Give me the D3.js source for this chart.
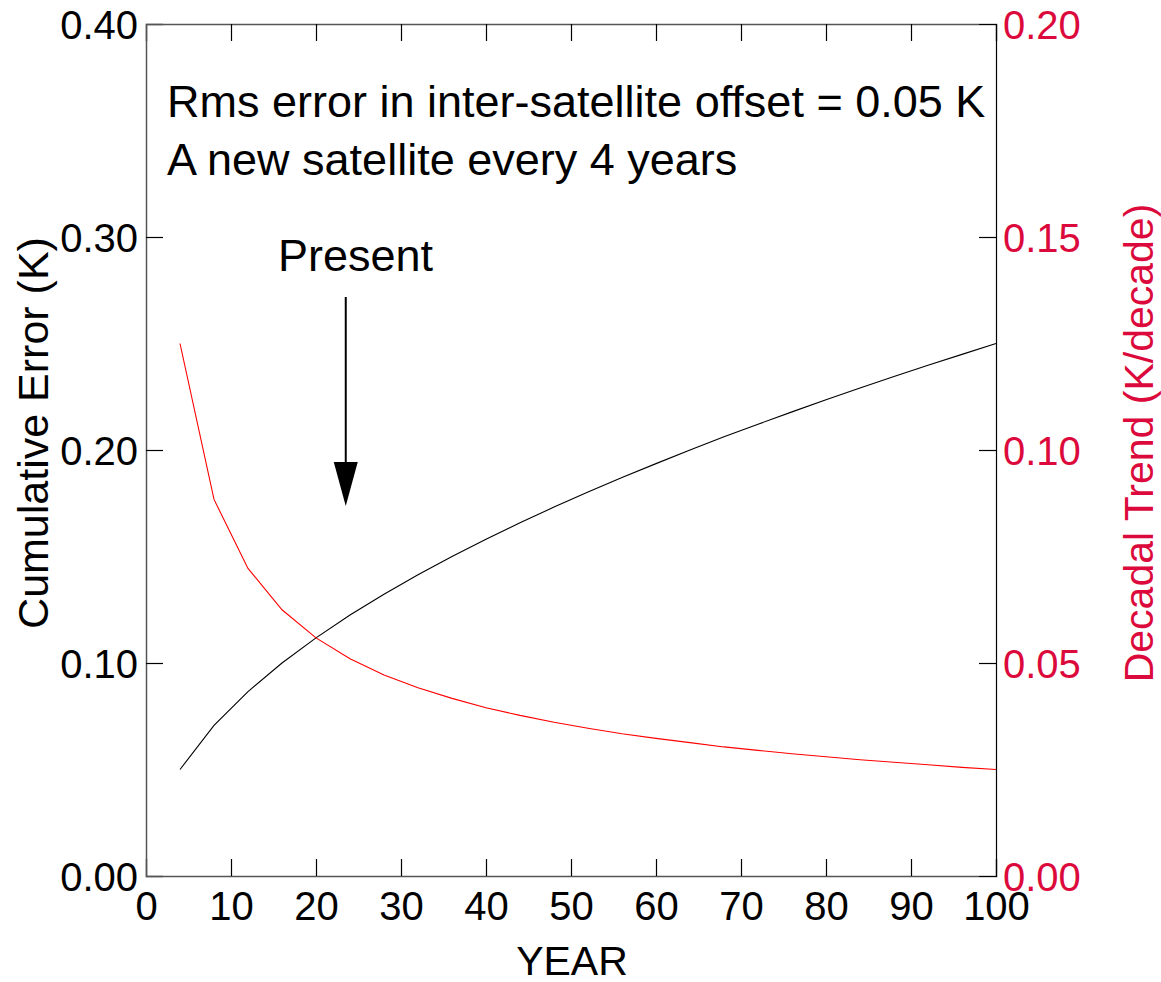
<!DOCTYPE html>
<html>
<head>
<meta charset="utf-8">
<title>Cumulative Error</title>
<style>
  body { margin: 0; background: #fff; }
  text { font-family: "Liberation Sans", Arial, sans-serif; }
</style>
</head>
<body>
<script src="https://cdnjs.cloudflare.com/ajax/libs/d3/7.8.5/d3.min.js"></script>
<script>
// data
var years = [4, 8, 12, 16, 20, 24, 28, 32, 36, 40, 44, 48, 52, 56, 60, 64, 68, 72, 76, 80, 84, 88, 92, 96, 100];
var cumError = [0.0500, 0.0707, 0.0866, 0.1000, 0.1118, 0.1225, 0.1323, 0.1414, 0.1500, 0.1581, 0.1658,
                0.1732, 0.1803, 0.1871, 0.1936, 0.2000, 0.2062, 0.2121, 0.2179, 0.2236, 0.2291, 0.2345,
                0.2398, 0.2449, 0.2500];
var decadalTrend = [0.1250, 0.0884, 0.0722, 0.0625, 0.0559, 0.0510, 0.0472, 0.0442, 0.0417, 0.0395, 0.0377,
                    0.0361, 0.0347, 0.0334, 0.0323, 0.0313, 0.0303, 0.0295, 0.0287, 0.0280, 0.0273, 0.0267,
                    0.0261, 0.0255, 0.0250];
var xTicks = [0, 10, 20, 30, 40, 50, 60, 70, 80, 90, 100];
var leftTicks = [0, 0.1, 0.2, 0.3, 0.4];
var rightTicks = [0, 0.05, 0.10, 0.15, 0.20];
var presentYear = 23.5;

var W = 1161, H = 982;
var margin = {top: 24, right: 165, bottom: 106, left: 146};
var width = W - margin.left - margin.right,
    height = H - margin.top - margin.bottom;
var red = "#dc0a3c";

var svg = d3.select("body").append("svg")
    .attr("width", W).attr("height", H);
var g = svg.append("g")
    .attr("transform", "translate(" + margin.left + "," + margin.top + ")");

var x = d3.scaleLinear().domain([0, 100]).range([0, width]);
var yL = d3.scaleLinear().domain([0, 0.4]).range([height, 0]);
var yR = d3.scaleLinear().domain([0, 0.2]).range([height, 0]);

var tick = 17;

// bottom axis
var xb = g.append("g").attr("transform", "translate(0," + height + ")")
  .call(d3.axisBottom(x).tickValues(xTicks).tickSize(-tick).tickPadding(16)
    .tickFormat(d3.format("d")));
// top axis (ticks only)
var xt = g.append("g")
  .call(d3.axisTop(x).tickValues(xTicks).tickSize(-tick).tickFormat(""));
// left axis
var yl = g.append("g")
  .call(d3.axisLeft(yL).tickValues(leftTicks).tickSize(-tick).tickPadding(8)
    .tickFormat(d3.format(".2f")));
// right axis
var yr = g.append("g").attr("transform", "translate(" + width + ",0)")
  .call(d3.axisRight(yR).tickValues(rightTicks).tickSize(-tick).tickPadding(7)
    .tickFormat(d3.format(".2f")));

[xb, xt, yl, yr].forEach(function(a) {
  a.selectAll("text").style("font-size", "40px").attr("fill", "#000");
  a.selectAll(".tick line").attr("stroke", "#000").attr("stroke-width", 1.2);
});
xb.select(".domain").attr("stroke", "#555").attr("stroke-width", 1.5);
xt.select(".domain").attr("stroke", "#555").attr("stroke-width", 1.5);
yl.select(".domain").attr("stroke", "#555").attr("stroke-width", 1.5);
yr.select(".domain").attr("stroke", "#000").attr("stroke-width", 1.2);
yr.selectAll("text").attr("fill", red);
yl.selectAll("text").attr("dy", "0.36em");
yr.selectAll("text").attr("dy", "0.36em");
xb.selectAll("text").attr("dy", "0.71em");
// hide end ticks at the corners
xb.selectAll(".tick line").filter(function(d) { return d === 0 || d === 100; }).attr("opacity", 0);
xt.selectAll(".tick line").filter(function(d) { return d === 0 || d === 100; }).attr("opacity", 0);
yl.selectAll(".tick line").filter(function(d) { return d === 0 || d === 0.4; }).attr("opacity", 0);
yr.selectAll(".tick line").filter(function(d) { return d === 0 || d === 0.2; }).attr("opacity", 0);

// lines
var blackLine = d3.line()
  .x(function(d, i) { return x(years[i]); })
  .y(function(d) { return yL(d); });
var redLine = d3.line()
  .x(function(d, i) { return x(years[i]); })
  .y(function(d) { return yR(d); });

g.append("path").datum(cumError)
  .attr("fill", "none").attr("stroke", "#000").attr("stroke-width", 1.1)
  .attr("d", blackLine);
g.append("path").datum(decadalTrend)
  .attr("fill", "none").attr("stroke", "#ff0000").attr("stroke-width", 1.1)
  .attr("d", redLine);

// annotations
g.append("text").attr("x", 21).attr("y", 93)
  .style("font-size", "45px").text("Rms error in inter-satellite offset = 0.05 K");
g.append("text").attr("x", 21).attr("y", 151)
  .style("font-size", "45px").text("A new satellite every 4 years");
g.append("text").attr("x", 132).attr("y", 247)
  .style("font-size", "45px").text("Present");

var ax = x(presentYear);
g.append("line").attr("x1", ax).attr("x2", ax).attr("y1", 273).attr("y2", 440)
  .attr("stroke", "#000").attr("stroke-width", 2);
g.append("path")
  .attr("d", "M" + (ax - 12) + "," + 438 + "L" + (ax + 12) + "," + 438 + "L" + ax + "," + 482 + "Z")
  .attr("fill", "#000");

// axis titles
svg.append("text")
  .attr("transform", "translate(48,433) rotate(-90)")
  .attr("text-anchor", "middle").style("font-size", "43px")
  .text("Cumulative Error (K)");
svg.append("text")
  .attr("transform", "translate(1153,443) rotate(-90)")
  .attr("text-anchor", "middle").style("font-size", "41px").attr("fill", red)
  .text("Decadal Trend (K/decade)");
svg.append("text")
  .attr("x", margin.left + width / 2 + 1).attr("y", 975)
  .attr("text-anchor", "middle").style("font-size", "41px")
  .text("YEAR");
</script>
</body>
</html>
